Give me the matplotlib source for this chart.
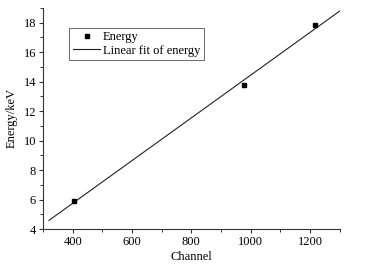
import numpy as np
import matplotlib
matplotlib.use("Agg")
import matplotlib.pyplot as plt
from matplotlib.ticker import MultipleLocator

channel = [403, 979, 1216]
energy = [5.9, 13.75, 17.85]
fit_range = [320, 1300]

plt.rcParams['font.family'] = ['Liberation Serif', 'DejaVu Serif']
plt.rcParams['mathtext.fontset'] = 'stix'

fig = plt.figure(figsize=(3.68, 2.73), dpi=100)
ax = fig.add_axes([43/368, 1 - 229/273, (339.7 - 43)/368, (229 - 8)/273])

slope, intercept = np.polyfit(channel, energy, 1)
xf = np.array(fit_range, dtype=float)
ax.plot(xf, slope * xf + intercept, color='#222222', lw=0.8, label='Linear fit of energy', zorder=2)
ax.plot(channel, energy, 's', color='black', ms=3.2, label='Energy', linestyle='none', zorder=3)

ax.set_xlim(300, 1300)
ax.set_ylim(4, 19)
ax.xaxis.set_major_locator(MultipleLocator(200))
ax.xaxis.set_minor_locator(MultipleLocator(100))
ax.yaxis.set_major_locator(MultipleLocator(2))
ax.yaxis.set_minor_locator(MultipleLocator(1))
ax.set_xticks([400, 600, 800, 1000, 1200])

for s in ['top', 'right']:
    ax.spines[s].set_visible(False)
for s in ['left', 'bottom']:
    ax.spines[s].set_linewidth(0.8)
    ax.spines[s].set_color('#333333')

ax.tick_params(which='major', direction='out', length=3, width=0.8, labelsize=9, pad=2, colors='#333333', labelcolor='black')
ax.tick_params(which='minor', direction='out', length=2, width=0.7, colors='#333333')

ax.set_xlabel('Channel', fontsize=9, labelpad=2)
ax.set_ylabel('Energy/keV', fontsize=9, labelpad=4)

handles, labels = ax.get_legend_handles_labels()
leg = ax.legend(handles[::-1], labels[::-1], loc='upper left', bbox_to_anchor=((69 - 43)/296.7, (229 - 27.7)/221),
                fontsize=9, frameon=True, fancybox=False, borderpad=0.3, handlelength=2.2,
                handletextpad=0.2, labelspacing=0.1, borderaxespad=0, edgecolor='#444444')
leg.get_frame().set_linewidth(0.7)

fig.savefig('out.png', dpi=100, facecolor='white')
